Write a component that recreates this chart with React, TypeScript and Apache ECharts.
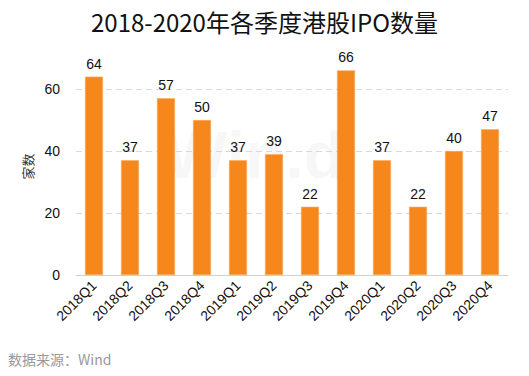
import React, { useEffect, useRef } from "react";
import * as echarts from "echarts";

const categories = ["2018Q1","2018Q2","2018Q3","2018Q4","2019Q1","2019Q2","2019Q3","2019Q4","2020Q1","2020Q2","2020Q3","2020Q4"];
const ipoCounts = [64, 37, 57, 50, 37, 39, 22, 66, 37, 22, 40, 47];
const titleText = "2018-2020年各季度港股IPO数量";
const yAxisName = "家数";
const sourceText = "数据来源：Wind";

export default function App() {
  const ref = useRef<HTMLDivElement>(null);
  useEffect(() => {
    const chart = echarts.init(ref.current!, null, { renderer: "svg" });
    chart.setOption({
      animation: false,
      backgroundColor: "#ffffff",
      title: {
        text: titleText,
        left: "center",
        top: 4,
        textStyle: { fontFamily: "Noto Sans CJK SC", fontSize: 24, fontWeight: "normal", color: "#111" },
      },
      graphic: [
        {
          type: "text",
          left: 8,
          top: 352,
          style: { text: sourceText, fill: "#999", font: "14px 'Noto Sans CJK SC', sans-serif" },
        },
        {
          type: "text",
          left: 165,
          top: 122,
          z: -1,
          silent: true,
          style: { text: "Win.d", fill: "rgba(0,0,0,0.03)", font: "bold 66px 'Liberation Sans', sans-serif" },
        },
      ],
      grid: { left: 76, right: 21, top: 58, bottom: 101 },
      xAxis: {
        type: "category",
        data: categories,
        axisLine: { lineStyle: { color: "#d0d0d0" } },
        axisTick: { show: false },
        axisLabel: { rotate: 45, color: "#111", fontSize: 14, fontFamily: "Liberation Sans", margin: 8 },
      },
      yAxis: {
        type: "value",
        min: 0,
        max: 70,
        interval: 20,
        name: yAxisName,
        nameLocation: "middle",
        nameGap: 36,
        nameRotate: 90,
        nameTextStyle: { color: "#333", fontSize: 13, fontFamily: "Noto Sans CJK SC" },
        axisLine: { show: false },
        axisTick: { show: false },
        axisLabel: { showMaxLabel: false, color: "#111", fontSize: 14, fontFamily: "Liberation Sans", margin: 16 },
        splitLine: { showMaxLine: false, lineStyle: { color: "#d9d9d9", type: [6, 4] } },
      },
      series: [
        {
          type: "bar",
          data: ipoCounts,
          barWidth: "50%",
          itemStyle: { color: "#F5871C", borderColor: "#F9A95A", borderWidth: 0.6 },
          label: { show: true, position: "top", distance: 6, color: "#111", fontSize: 14, fontFamily: "Liberation Sans" },
        },
      ],
    });
    return () => chart.dispose();
  }, []);
  return <div ref={ref} style={{ position: "absolute", left: 0, top: 0, width: 529, height: 376 }} />;
}
